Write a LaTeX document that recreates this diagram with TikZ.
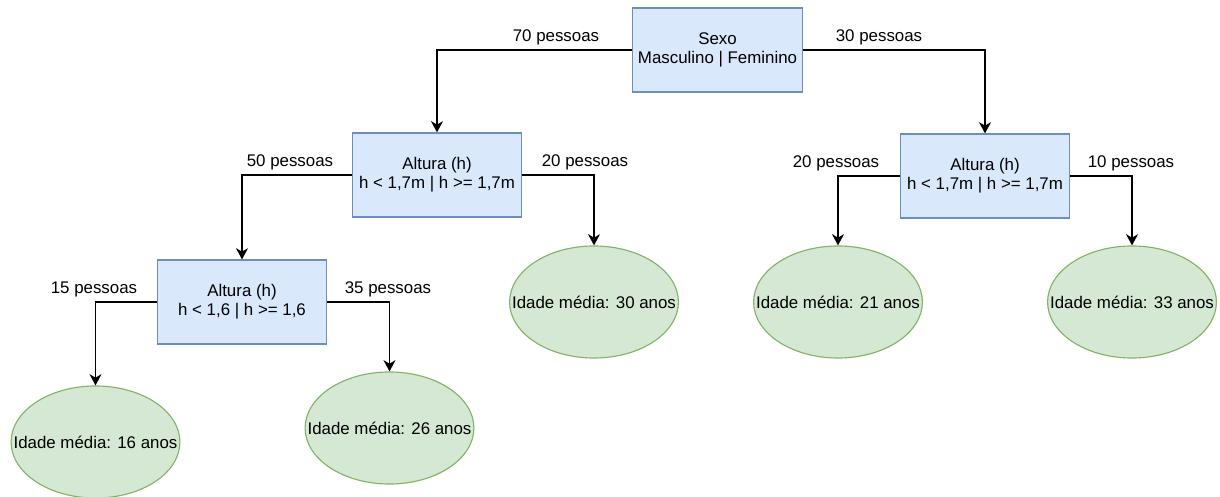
\documentclass[tikz,border=0pt]{standalone}
\usepackage{fontspec}
\setmainfont{Liberation Sans}
\usetikzlibrary{arrows.meta,shapes.geometric}
\definecolor{azulCaixa}{HTML}{DAE8FC}
\definecolor{azulBorda}{HTML}{6C8EBF}
\definecolor{verdeCaixa}{HTML}{D5E8D4}
\definecolor{verdeBorda}{HTML}{82B366}
% texto da folha sem largura, para a elipse manter o tamanho
\newcommand{\idade}[1]{\makebox[0pt]{Idade média: #1 anos}}
\begin{document}
\begin{tikzpicture}[>={Stealth[length=8pt,width=8.5pt,inset=2.5pt]}, x=0.025cm, y=-0.025cm, line width=1.15pt,
	font=\fontsize{12}{13.5}\selectfont,
	teste/.style={rectangle, draw=azulBorda, fill=azulCaixa, line width=0.8pt, minimum width=4.23cm, minimum height=2.1cm, align=center},
	folha/.style={ellipse, draw=verdeBorda, fill=verdeCaixa, line width=0.8pt, minimum width=4.22cm, minimum height=2.8cm, inner sep=0pt}]
		\useasboundingbox (0,0) rectangle (1220,497);
		% testes
		\node[teste] (sexo) at (717.5,50) {Sexo\\Masculino | Feminino};
		\node[teste] (altA) at (437,175) {Altura (h)\\h < 1,7m | h >= 1,7m};
		\node[teste] (altB) at (985,176) {Altura (h)\\h < 1,7m | h >= 1,7m};
		\node[teste] (altC) at (242,302) {Altura (h)\\h < 1,6 | h >= 1,6};
		% folhas
		\node[folha] (i16) at (95.5,442) {\idade{16}};
		\node[folha] (i26) at (389.5,428) {\idade{26}};
		\node[folha] (i30) at (594,302) {\idade{30}};
		\node[folha] (i21) at (838,302) {\idade{21}};
		\node[folha] (i33) at (1132,302) {\idade{33}};
		% ramos
		\draw[->] (sexo.west) -| (altA.north);
		\draw[->] (sexo.east) -| (altB.north);
		\draw[->] (altA.west) -| (altC.north);
		\draw[->] (altA.east) -| (i30.north);
		\draw[->] (altB.west) -| (i21.north);
		\draw[->] (altB.east) -| (i33.north);
		\draw[->] (altC.west) -| (i16.north);
		\draw[->] (altC.east) -| (i26.north);
		% quantidades
		\node (n70) at (556,37) {70 pessoas};
		\node (n30) at (879,37) {30 pessoas};
		\node (n50) at (290,162) {50 pessoas};
		\node (n20a) at (585,162) {20 pessoas};
		\node (n20b) at (836,163) {20 pessoas};
		\node (n10) at (1131,163) {10 pessoas};
		\node (n15) at (94,289) {15 pessoas};
		\node (n35) at (388,289) {35 pessoas};
\end{tikzpicture}
\end{document}
